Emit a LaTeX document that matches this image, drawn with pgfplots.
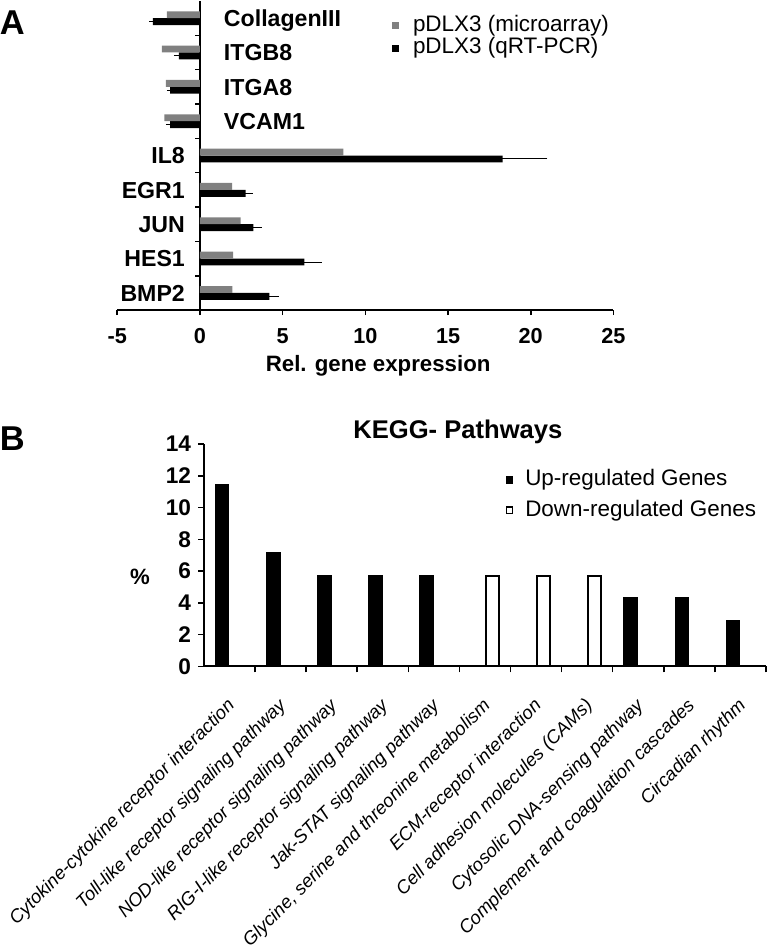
\documentclass[border=0pt]{standalone}
\usepackage{fontspec}
\setmainfont{Liberation Sans}
\usepackage{pgfplots}
\pgfplotsset{compat=1.18}
\definecolor{mygray}{RGB}{128,128,128}
\begin{document}
\begin{tikzpicture}[
  lab/.style={font=\bfseries\fontsize{11.75}{13}\selectfont, inner sep=0pt, text height=8.4pt, text depth=0pt}]
\begin{scope}[x=0.5pt,y=-0.5pt]
\useasboundingbox (0,0) rectangle (780,950);
\end{scope}

% ---------------- Panel A ----------------
\begin{axis}[
  at={(59.5pt,-156pt)}, anchor=south west,
  scale only axis, width=252pt, height=157pt,
  xmin=-5, xmax=25, ymin=-0.5, ymax=8.5,
  axis x line=bottom, axis y line=middle,
  axis line style={-, line width=1pt},
  xtick={-5,0,5,10,15,20,25}, xticklabels={-5,0,5,10,15,20,25},
  ytick={0.5,1.5,...,7.5}, yticklabels={},
  tick align=outside,
  major tick length=2.5pt,
  tick style={black, line width=0.8pt},
  xticklabel style={font=\bfseries\fontsize{11}{12}\selectfont, yshift=-3.5pt},
  xbar=0pt, bar width=3.5pt,
  clip=false,
  reverse legend,
  legend cell align=left,
  legend style={at={(rel axis cs:0.5536,0.955)}, anchor=north west, draw=none, fill=none,
    font=\fontsize{11.4}{13}\selectfont, column sep=7pt, row sep=1pt, inner sep=0pt,
    nodes={inner sep=0pt, text height=8.1pt, text depth=2.4pt}},
  legend image code/.code={\fill[#1] (0pt,-1.75pt) rectangle (3.5pt,1.75pt);},
]
\addplot[fill=black, draw=none,
  error bars/.cd, x dir=both, x explicit,
  error bar style={line width=0.5pt, black},
  error mark options={black, mark size=1.25pt, line width=0.5pt}]
  coordinates {
  (4.19,0) +- (0.43,0)
  (6.31,1) +- (0.9,0)
  (3.23,2) +- (0.35,0)
  (2.76,3) +- (0.28,0)
  (18.3,4) +- (2.55,0)
  (-1.8,5) +- (0.12,0)
  (-1.8,6) +- (0.05,0)
  (-1.27,7) +- (0.16,0)
  (-2.85,8) +- (0.08,0)
  };
\addlegendentry{pDLX3 (qRT-PCR)}
\addplot[fill=mygray, draw=none] coordinates {
  (1.96,0) (2.0,1) (2.46,2) (1.94,3) (8.67,4) (-2.16,5) (-2.06,6) (-2.3,7) (-2.0,8)};
\addlegendentry{pDLX3 (microarray)}

\node[lab, anchor=east, xshift=-7.5pt] at (axis cs:0,0) {BMP2};
\node[lab, anchor=east, xshift=-7.5pt] at (axis cs:0,1) {HES1};
\node[lab, anchor=east, xshift=-7.5pt] at (axis cs:0,2) {JUN};
\node[lab, anchor=east, xshift=-7.5pt] at (axis cs:0,3) {EGR1};
\node[lab, anchor=east, xshift=-7.5pt] at (axis cs:0,4) {IL8};
\node[lab, anchor=west, xshift=12pt] at (axis cs:0,5) {VCAM1};
\node[lab, anchor=west, xshift=12pt] at (axis cs:0,6) {ITGA8};
\node[lab, anchor=west, xshift=12pt] at (axis cs:0,7) {ITGB8};
\node[lab, anchor=west, xshift=12pt] at (axis cs:0,8) {CollagenIII};
\end{axis}

% ---------------- Panel B ----------------
\begin{axis}[
  at={(103.5pt,-337pt)}, anchor=south west,
  scale only axis, width=285.5pt, height=113pt,
  xmin=-0.5, xmax=10.5, ymin=0, ymax=14,
  axis x line=bottom, axis y line=left,
  axis line style={-, line width=1pt},
  ytick={0,2,...,14}, yticklabels={0,2,4,6,8,10,12,14},
  yticklabel style={font=\bfseries\fontsize{11.5}{12}\selectfont},
  xtick={0.5,1.5,...,10.5}, xticklabels={},
  extra x ticks={0,1,...,10},
  extra x tick labels={Cytokine-cytokine receptor interaction, Toll-like receptor signaling pathway, NOD-like receptor signaling pathway, RIG-I-like receptor signaling pathway, Jak-STAT signaling pathway, {Glycine, serine and threonine metabolism}, ECM-receptor interaction, Cell adhesion molecules (CAMs), Cytosolic DNA-sensing pathway, Complement and coagulation cascades, Circadian rhythm},
  extra x tick style={major tick length=0pt},
  xticklabel style={font=\itshape\fontsize{9.4}{11}\selectfont, inner sep=0pt, xshift=1.5pt, yshift=-18.5pt, rotate=45, anchor=east},
  tick align=outside,
  major tick length=3pt,
  tick style={black, line width=0.8pt},
  ybar=1pt, bar width=6.5pt,
  clip=false,
  legend cell align=left,
  legend style={at={(rel axis cs:0.536,0.885)}, anchor=north west, draw=none, fill=none,
    font=\fontsize{11.4}{13}\selectfont, column sep=6pt, row sep=4.8pt, inner sep=0pt,
    nodes={inner sep=0pt, text height=8.1pt, text depth=2.4pt}},
  legend image code/.code={\draw[#1, line width=0.8pt] (0pt,-1.6pt) rectangle (3.2pt,1.6pt);},
]
\addplot[fill=black, draw=black, line width=1pt] coordinates {
  (0,11.43) (1,7.14) (2,5.71) (3,5.71) (4,5.71) (8,4.29) (9,4.29) (10,2.86)};
\addlegendentry{Up-regulated Genes}
\addplot[fill=white, draw=black, line width=1pt] coordinates {
  (5,5.71) (6,5.71) (7,5.71)};
\addlegendentry{Down-regulated Genes}
\end{axis}

\begin{scope}[x=0.5pt,y=-0.5pt]
\node[font=\bfseries\fontsize{17.5}{20}\selectfont, inner sep=0pt, text height=12.5pt, text depth=0pt] at (12.5,19.5) {A};
\node[font=\bfseries\fontsize{11.3}{13}\selectfont, inner sep=0pt, text height=8.1pt, text depth=0pt] at (384,366) {Rel. gene expression};
\node[font=\bfseries\fontsize{17.5}{20}\selectfont, inner sep=0pt, text height=12.5pt, text depth=0pt] at (12.5,442.5) {B};
\node[font=\bfseries\fontsize{13}{15}\selectfont, inner sep=0pt, text height=9.3pt, text depth=0pt] at (465,433) {KEGG- Pathways};
\node[font=\bfseries\fontsize{11.25}{13}\selectfont, inner sep=0pt, text height=8pt, text depth=0pt] at (142,583) {\%};
\end{scope}
\end{tikzpicture}
\end{document}
